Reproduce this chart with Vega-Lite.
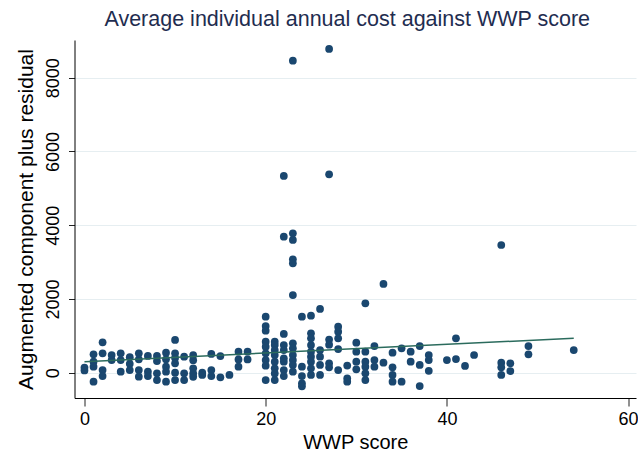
{
  "$schema": "https://vega.github.io/schema/vega-lite/v6.json",
  "width": 561.5,
  "height": 358,
  "autosize": {"type": "none"},
  "padding": {"left": 74.5, "top": 40, "right": 2, "bottom": 55},
  "background": "white",
  "config": {"view": {"stroke": null}, "font": "Liberation Sans"},
  "title": {"text": "Average individual annual cost against WWP score", "fontSize": 21.5, "font": "Liberation Sans", "fontWeight": "normal", "color": "#1f2d50", "anchor": "middle", "dx": -8, "dy": 20, "baseline": "alphabetic", "offset": 13},
  "datasets": {
    "pts": [
      {"w":0,"c":140},{"w":0,"c":60},
      {"w":1,"c":499},{"w":1,"c":298},{"w":1,"c":163},{"w":1,"c":-244},
      {"w":2,"c":824},{"w":2,"c":526},{"w":2,"c":73},{"w":2,"c":-90},
      {"w":3,"c":480},{"w":3,"c":344},
      {"w":4,"c":526},{"w":4,"c":344},{"w":4,"c":27},
      {"w":5,"c":420},{"w":5,"c":240},{"w":5,"c":73},
      {"w":6,"c":526},{"w":6,"c":363},{"w":6,"c":73},{"w":6,"c":-108},
      {"w":7,"c":453},{"w":7,"c":27},{"w":7,"c":-90},
      {"w":8,"c":453},{"w":8,"c":317},{"w":8,"c":-16},{"w":8,"c":-198},
      {"w":9,"c":542},{"w":9,"c":363},{"w":9,"c":163},{"w":9,"c":27},{"w":9,"c":-244},
      {"w":10,"c":887},{"w":10,"c":526},{"w":10,"c":400},{"w":10,"c":253},{"w":10,"c":0},{"w":10,"c":-198},
      {"w":11,"c":434},{"w":11,"c":-16},{"w":11,"c":-198},
      {"w":12,"c":480},{"w":12,"c":340},{"w":12,"c":118},{"w":12,"c":-20},{"w":12,"c":-110},
      {"w":13,"c":0},{"w":13,"c":-60},
      {"w":14,"c":510},{"w":14,"c":73},{"w":14,"c":-90},
      {"w":15,"c":450},{"w":15,"c":-125},
      {"w":16,"c":-62},
      {"w":17,"c":570},{"w":17,"c":360},{"w":17,"c":163},
      {"w":18,"c":570},{"w":18,"c":360},
      {"w":20,"c":1519},{"w":20,"c":1266},{"w":20,"c":1140},{"w":20,"c":841},{"w":20,"c":705},{"w":20,"c":526},{"w":20,"c":344},{"w":20,"c":190},{"w":20,"c":-198},
      {"w":21,"c":841},{"w":21,"c":751},{"w":21,"c":615},{"w":21,"c":480},{"w":21,"c":298},{"w":21,"c":118},{"w":21,"c":-20},{"w":21,"c":-198},
      {"w":22,"c":5335},{"w":22,"c":3688},{"w":22,"c":1050},{"w":22,"c":751},{"w":22,"c":615},{"w":22,"c":390},{"w":22,"c":298},{"w":22,"c":73},{"w":22,"c":-90},
      {"w":23,"c":8461},{"w":23,"c":3780},{"w":23,"c":3599},{"w":23,"c":3075},{"w":23,"c":2967},{"w":23,"c":2107},{"w":23,"c":797},{"w":23,"c":662},{"w":23,"c":480},{"w":23,"c":344},{"w":23,"c":209},{"w":23,"c":27},
      {"w":24,"c":1519},{"w":24,"c":163},{"w":24,"c":-90},{"w":24,"c":-288},{"w":24,"c":-370},
      {"w":25,"c":1546},{"w":25,"c":1068},{"w":25,"c":933},{"w":25,"c":751},{"w":25,"c":570},{"w":25,"c":434},{"w":25,"c":298},{"w":25,"c":118},{"w":25,"c":-62},
      {"w":26,"c":1728},{"w":26,"c":615},{"w":26,"c":434},{"w":26,"c":209},{"w":26,"c":-62},
      {"w":27,"c":8779},{"w":27,"c":5381},{"w":27,"c":900},{"w":27,"c":760},{"w":27,"c":255},{"w":27,"c":145},
      {"w":28,"c":1248},{"w":28,"c":1112},{"w":28,"c":933},{"w":28,"c":640},{"w":28,"c":73},
      {"w":29,"c":195},{"w":29,"c":-152},{"w":29,"c":-244},
      {"w":30,"c":814},{"w":30,"c":570},{"w":30,"c":298},{"w":30,"c":92},
      {"w":31,"c":1882},{"w":31,"c":570},{"w":31,"c":298},{"w":31,"c":163},{"w":31,"c":-16},{"w":31,"c":-198},
      {"w":32,"c":724},{"w":32,"c":344},{"w":32,"c":163},
      {"w":33,"c":2406},{"w":33,"c":271},
      {"w":34,"c":542},{"w":34,"c":145},{"w":34,"c":-62},{"w":34,"c":-244},
      {"w":35,"c":662},{"w":35,"c":-244},
      {"w":36,"c":570},{"w":36,"c":298},
      {"w":37,"c":724},{"w":37,"c":209},{"w":37,"c":-361},
      {"w":38,"c":480},{"w":38,"c":344},{"w":38,"c":50},
      {"w":40,"c":344},
      {"w":41,"c":933},{"w":41,"c":371},
      {"w":42,"c":182},
      {"w":43,"c":480},
      {"w":46,"c":3463},{"w":46,"c":271},{"w":46,"c":145},{"w":46,"c":-62},
      {"w":47,"c":253},{"w":47,"c":46},
      {"w":49,"c":724},{"w":49,"c":498},
      {"w":54,"c":615}
    ],
    "fit": [{"w":0,"c":298},{"w":54,"c":933}]
  },
  "layer": [
    {
      "data": {"name": "pts"},
      "mark": {"type": "circle", "size": 60, "color": "#1a476f", "opacity": 1},
      "encoding": {
        "x": {"field": "w", "type": "quantitative",
              "scale": {"domain": [-1.1, 60.87], "nice": false, "zero": false},
              "axis": {"title": "WWP score", "values": [0, 20, 40, 60], "grid": false,
                       "domainColor": "black", "domainWidth": 1, "tickColor": "#222", "tickSize": 8,
                       "labelFontSize": 18, "labelColor": "black", "labelPadding": 4,
                       "titleFontSize": 20, "titleFontWeight": "normal", "titleColor": "black", "titlePadding": 4}},
        "y": {"field": "c", "type": "quantitative",
              "scale": {"domain": [-686, 9022], "nice": false, "zero": false},
              "axis": {"title": "Augmented component plus residual", "values": [0, 2000, 4000, 6000, 8000], "format": "d",
                       "grid": true, "gridColor": "#e6eef1", "gridWidth": 1,
                       "domainColor": "black", "domainWidth": 1, "tickColor": "#222", "tickSize": 6,
                       "labelAngle": -90, "labelAlign": "center", "labelBaseline": "bottom",
                       "labelFontSize": 18, "labelColor": "black", "labelPadding": 6,
                       "titleFontSize": 21, "titleFontWeight": "normal", "titleColor": "black", "titlePadding": 8}}
      }
    },
    {
      "data": {"name": "fit"},
      "mark": {"type": "line", "color": "#2b6b5d", "strokeWidth": 1.5},
      "encoding": {
        "x": {"field": "w", "type": "quantitative"},
        "y": {"field": "c", "type": "quantitative"}
      }
    }
  ]
}
